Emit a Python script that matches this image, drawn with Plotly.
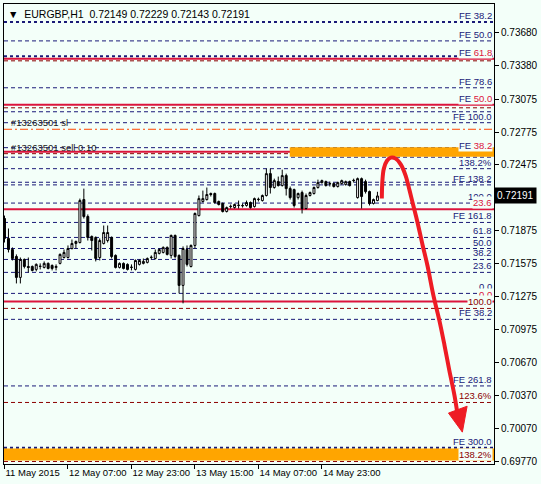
import plotly.graph_objects as go

# EURGBP H1 bars, 11 May 15:00 .. 15 May 13:00
bar_open = [0.71985, 0.71803, 0.71702, 0.71638, 0.71447, 0.71611, 0.71547, 0.71547, 0.71520, 0.71547,
            0.71538, 0.71575, 0.71556, 0.71538, 0.71575, 0.71629, 0.71629, 0.71711, 0.71757, 0.71766,
            0.72158, 0.72003, 0.71821, 0.71812, 0.71629, 0.71757, 0.71784, 0.71812, 0.71648, 0.71538,
            0.71575, 0.71566, 0.71538, 0.71520, 0.71566, 0.71575, 0.71584, 0.71629, 0.71620, 0.71666,
            0.71675, 0.71721, 0.71648, 0.71830, 0.71648, 0.71374, 0.71702, 0.71547, 0.71739, 0.72012,
            0.72140, 0.72158, 0.72213, 0.72213, 0.72140, 0.72122, 0.72049, 0.72094, 0.72085, 0.72104,
            0.72104, 0.72104, 0.72131, 0.72094, 0.72158, 0.72149, 0.72195, 0.72395, 0.72268, 0.72322,
            0.72286, 0.72377, 0.72258, 0.72249, 0.72176, 0.72222, 0.72076, 0.72195, 0.72213, 0.72268,
            0.72313, 0.72322, 0.72304, 0.72304, 0.72277, 0.72304, 0.72295, 0.72322, 0.72331, 0.72176,
            0.72349, 0.72322, 0.72231, 0.72122, 0.72149]
bar_high = [0.72012, 0.71894, 0.71721, 0.71657, 0.71629, 0.71620, 0.71629, 0.71556, 0.71575, 0.71575,
            0.71593, 0.71584, 0.71566, 0.71566, 0.71666, 0.71702, 0.71739, 0.71793, 0.71784, 0.72167,
            0.72258, 0.72022, 0.71830, 0.71821, 0.71803, 0.71921, 0.71921, 0.71821, 0.71657, 0.71584,
            0.71584, 0.71575, 0.71566, 0.71611, 0.71611, 0.71620, 0.71629, 0.71648, 0.71702, 0.71711,
            0.71730, 0.71730, 0.71839, 0.71839, 0.71657, 0.71730, 0.71739, 0.71748, 0.72040, 0.72195,
            0.72240, 0.72268, 0.72222, 0.72222, 0.72149, 0.72131, 0.72094, 0.72113, 0.72122, 0.72149,
            0.72122, 0.72149, 0.72140, 0.72176, 0.72176, 0.72204, 0.72440, 0.72440, 0.72349, 0.72368,
            0.72431, 0.72395, 0.72277, 0.72258, 0.72222, 0.72240, 0.72213, 0.72231, 0.72277, 0.72340,
            0.72340, 0.72331, 0.72322, 0.72313, 0.72322, 0.72340, 0.72331, 0.72331, 0.72349, 0.72359,
            0.72359, 0.72340, 0.72240, 0.72167, 0.72229]
bar_low = [0.71766, 0.71675, 0.71602, 0.71392, 0.71392, 0.71529, 0.71493, 0.71502, 0.71502, 0.71520,
           0.71529, 0.71520, 0.71511, 0.71511, 0.71566, 0.71620, 0.71620, 0.71702, 0.71711, 0.71757,
           0.71985, 0.71784, 0.71693, 0.71593, 0.71602, 0.71748, 0.71766, 0.71620, 0.71529, 0.71529,
           0.71520, 0.71511, 0.71511, 0.71511, 0.71556, 0.71566, 0.71575, 0.71611, 0.71611, 0.71657,
           0.71666, 0.71648, 0.71620, 0.71620, 0.71301, 0.71210, 0.71547, 0.71538, 0.71711, 0.72003,
           0.72131, 0.72149, 0.72186, 0.72122, 0.72104, 0.72040, 0.72040, 0.72076, 0.72076, 0.72076,
           0.72085, 0.72094, 0.72076, 0.72085, 0.72140, 0.72140, 0.72186, 0.72213, 0.72258, 0.72277,
           0.72277, 0.72195, 0.72158, 0.72085, 0.72158, 0.72031, 0.72067, 0.72186, 0.72204, 0.72258,
           0.72304, 0.72277, 0.72277, 0.72268, 0.72268, 0.72295, 0.72286, 0.72277, 0.72313, 0.72167,
           0.72076, 0.72213, 0.72104, 0.72113, 0.72143]
bar_close = [0.71803, 0.71702, 0.71620, 0.71447, 0.71611, 0.71547, 0.71538, 0.71511, 0.71566, 0.71549,
             0.71575, 0.71529, 0.71529, 0.71547, 0.71657, 0.71675, 0.71711, 0.71757, 0.71775, 0.72149,
             0.72003, 0.71812, 0.71784, 0.71620, 0.71784, 0.71857, 0.71857, 0.71638, 0.71538, 0.71575,
             0.71529, 0.71520, 0.71540, 0.71602, 0.71602, 0.71593, 0.71620, 0.71631, 0.71675, 0.71702,
             0.71721, 0.71657, 0.71830, 0.71638, 0.71374, 0.71711, 0.71566, 0.71739, 0.72031, 0.72167,
             0.72167, 0.72204, 0.72204, 0.72131, 0.72113, 0.72049, 0.72085, 0.72096, 0.72113, 0.72106,
             0.72102, 0.72131, 0.72085, 0.72167, 0.72160, 0.72195, 0.72395, 0.72268, 0.72331, 0.72286,
             0.72377, 0.72258, 0.72176, 0.72104, 0.72213, 0.72076, 0.72195, 0.72222, 0.72268, 0.72313,
             0.72331, 0.72286, 0.72302, 0.72277, 0.72313, 0.72331, 0.72322, 0.72286, 0.72333, 0.72349,
             0.72186, 0.72231, 0.72122, 0.72158, 0.72191]

time_labels = ['11 May 2015', '12 May 07:00', '12 May 23:00', '13 May 15:00', '14 May 07:00', '14 May 23:00']
time_label_bars = [0, 16, 32, 48, 64, 80]

price_ticks = [0.73680, 0.73380, 0.73075, 0.72775, 0.72475, 0.71875, 0.71575,
               0.71275, 0.70975, 0.70670, 0.70370, 0.70070, 0.69770]
last_price = 0.72191

# fibo / expansion levels drawn across the chart
level_prices = [0.73780, 0.73607, 0.73466, 0.73443, 0.73425, 0.73179, 0.73024, 0.72996, 0.72960, 0.72860,
                0.72800, 0.72632, 0.72595, 0.72577, 0.72545, 0.72440, 0.72316, 0.72292, 0.72126, 0.72070,
                0.71949, 0.71812, 0.71711, 0.71611, 0.71493, 0.71301, 0.71228, 0.71164, 0.71064, 0.70456,
                0.70305, 0.69891, 0.69766]
level_kinds = ['fe_dot', 'fe', 'fe_dot', 'red', 'maroon', 'fe', 'red', 'maroon', 'fe', 'fe',
               'sl', 'fe', 'red', 'maroon', 'fe', 'fe', 'fe', 'fe', 'fe', 'red',
               'fe', 'fe', 'fe', 'fe', 'fe', 'fe', 'red', 'maroon', 'fe', 'fe',
               'maroon', 'fe_dot', 'maroon']
level_labels = ['FE 38.2', 'FE 50.0', '', 'FE 61.8', '', 'FE 78.6', 'FE 50.0', '', '', 'FE 100.0',
                '', '', 'FE 38.2', '', '', '138.2%', '', 'FE 138.2', '100.0', '23.6',
                'FE 161.8', '61.8', '50.0', '38.2', '23.6', '0.0', '0.0', '100.0', 'FE 38.2', 'FE 261.8',
                '123.6%', 'FE 300.0', '138.2%']

# order labels (text, level it sits on)
order_texts = ['#13263501 sl', '#13263501 sell 0.10']
order_prices = [0.72800, 0.72577]

# orange zones: start bar, top, bottom
zone_start = [71.9, -0.2]
zone_top = [0.72636, 0.69884]
zone_bottom = [0.72550, 0.69775]

# hand-drawn forecast arrow (bar index, price)
arrow_bar = [95.1, 95.25, 95.6, 96.4, 97.4, 98.6, 99.9, 101.1, 102.1, 103.1, 104.1, 105.4,
             106.6, 108.1, 109.6, 110.9, 112.1, 113.4, 114.1]
arrow_price = [0.72167, 0.72331, 0.72440, 0.72513, 0.72541, 0.72532, 0.72477, 0.72377, 0.72240,
               0.72094, 0.71949, 0.71739, 0.71556, 0.71283, 0.71055, 0.70827, 0.70600, 0.70372, 0.70217]
head_bar = [111.9, 115.4, 116.6, 111.9]
head_price = [0.70208, 0.70034, 0.70271, 0.70208]

NAVY = '#1a1a78'
CRIMSON = '#dc143c'
MAROON = '#8b0000'
BG = '#f3fff9'
FONT = 'Liberation Sans, Arial, sans-serif'
FS = 9.5

line_style = {
    'fe': dict(color=NAVY, width=1, dash='4px,3px'),
    'fe_dot': dict(color=NAVY, width=2, dash='3px,3px'),
    'red': dict(color=CRIMSON, width=2, dash='solid'),
    'maroon': dict(color=MAROON, width=1, dash='4px,3px'),
    'sl': dict(color='#ff4500', width=1, dash='8px,3px,2px,3px'),
}
label_color = {'fe': NAVY, 'fe_dot': NAVY, 'red': CRIMSON, 'maroon': MAROON, 'sl': '#ff4500'}

x_left, x_right = -0.125, 123.375
bars = list(range(len(bar_open)))

fig = go.Figure()

fig.add_trace(go.Candlestick(
    x=bars, open=bar_open, high=bar_high, low=bar_low, close=bar_close,
    increasing=dict(line=dict(color='black', width=1), fillcolor='white'),
    decreasing=dict(line=dict(color='black', width=1), fillcolor='black'),
    whiskerwidth=0, hoverinfo='skip'))

fig.add_trace(go.Scatter(x=arrow_bar, y=arrow_price, mode='lines',
                         line=dict(color='#ee1c24', width=4, shape='spline'), hoverinfo='skip'))
fig.add_trace(go.Scatter(x=head_bar, y=head_price, mode='lines', fill='toself',
                         fillcolor='#ee1c24', line=dict(color='#ee1c24', width=1), hoverinfo='skip'))

shapes = []
for x0, top, bot in zip(zone_start, zone_top, zone_bottom):
    shapes.append(dict(type='rect', xref='x', yref='y', x0=x0, x1=x_right, y0=bot, y1=top,
                       fillcolor='#ffa500', line=dict(width=0), layer='below'))
for p, k in zip(level_prices, level_kinds):
    shapes.append(dict(type='line', xref='paper', yref='y', x0=0, x1=1, y0=p, y1=p,
                       line=line_style[k], layer='below'))

annotations = []
for p, k, txt in zip(level_prices, level_kinds, level_labels):
    if not txt:
        continue
    if k == 'red' and txt.startswith('FE '):
        txt = f"<span style='color:{NAVY}'>FE</span> " + txt[3:]
    annotations.append(dict(xref='paper', yref='y', x=1, y=p, xanchor='right', yanchor='bottom',
                            text=txt, showarrow=False, xshift=-1, borderpad=0,
                            bgcolor=BG if k in ('red', 'maroon') else None,
                            font=dict(family=FONT, size=FS, color=label_color[k])))

for txt, p in zip(order_texts, order_prices):
    annotations.append(dict(xref='paper', yref='y', x=0, y=p, xanchor='left', yanchor='bottom',
                            text=txt, showarrow=False, xshift=6, borderpad=0,
                            font=dict(family=FONT, size=FS, color='#202020')))

annotations.append(dict(xref='paper', yref='y', x=1, y=last_price, xanchor='left', yanchor='middle',
                        text=f'{last_price:.5f}', showarrow=False, bgcolor='black', borderpad=2,
                        font=dict(family=FONT, size=10, color='white')))

annotations.append(dict(xref='paper', yref='paper', x=0, y=1, xanchor='left', yanchor='top',
                        xshift=2, yshift=-2, showarrow=False,
                        text='\u25bc\u00a0 EURGBP,H1\u00a0\u00a00.72149\u00a00.72229\u00a00.72143\u00a00.72191',
                        font=dict(family=FONT, size=10.5, color='black')))

fig.update_layout(
    width=541, height=484, autosize=False,
    margin=dict(l=3, r=44, t=3, b=20),
    paper_bgcolor=BG, plot_bgcolor=BG,
    showlegend=False, hovermode=False,
    shapes=shapes, annotations=annotations,
    font=dict(family=FONT, size=FS, color='black'),
)
fig.update_xaxes(range=[x_left, x_right], rangeslider_visible=False, showgrid=False, zeroline=False,
                 tickvals=time_label_bars, ticktext=time_labels, ticklabelposition='outside right',
                 tickangle=0, ticks='outside', ticklen=4, tickcolor='black', showline=True,
                 linecolor='black', linewidth=1, mirror=True, tickfont=dict(size=9.5))
fig.update_yaxes(range=[0.69743, 0.73944], side='right', showgrid=False, zeroline=False,
                 tickvals=price_ticks, ticktext=[f'{v:.5f}' for v in price_ticks],
                 ticks='outside', ticklen=4, tickcolor='black', showline=True, linecolor='black',
                 linewidth=1, mirror=True, tickfont=dict(size=10))

fig.write_html("out.html", config={'displayModeBar': False},
               post_script="document.body.style.margin='0';")
